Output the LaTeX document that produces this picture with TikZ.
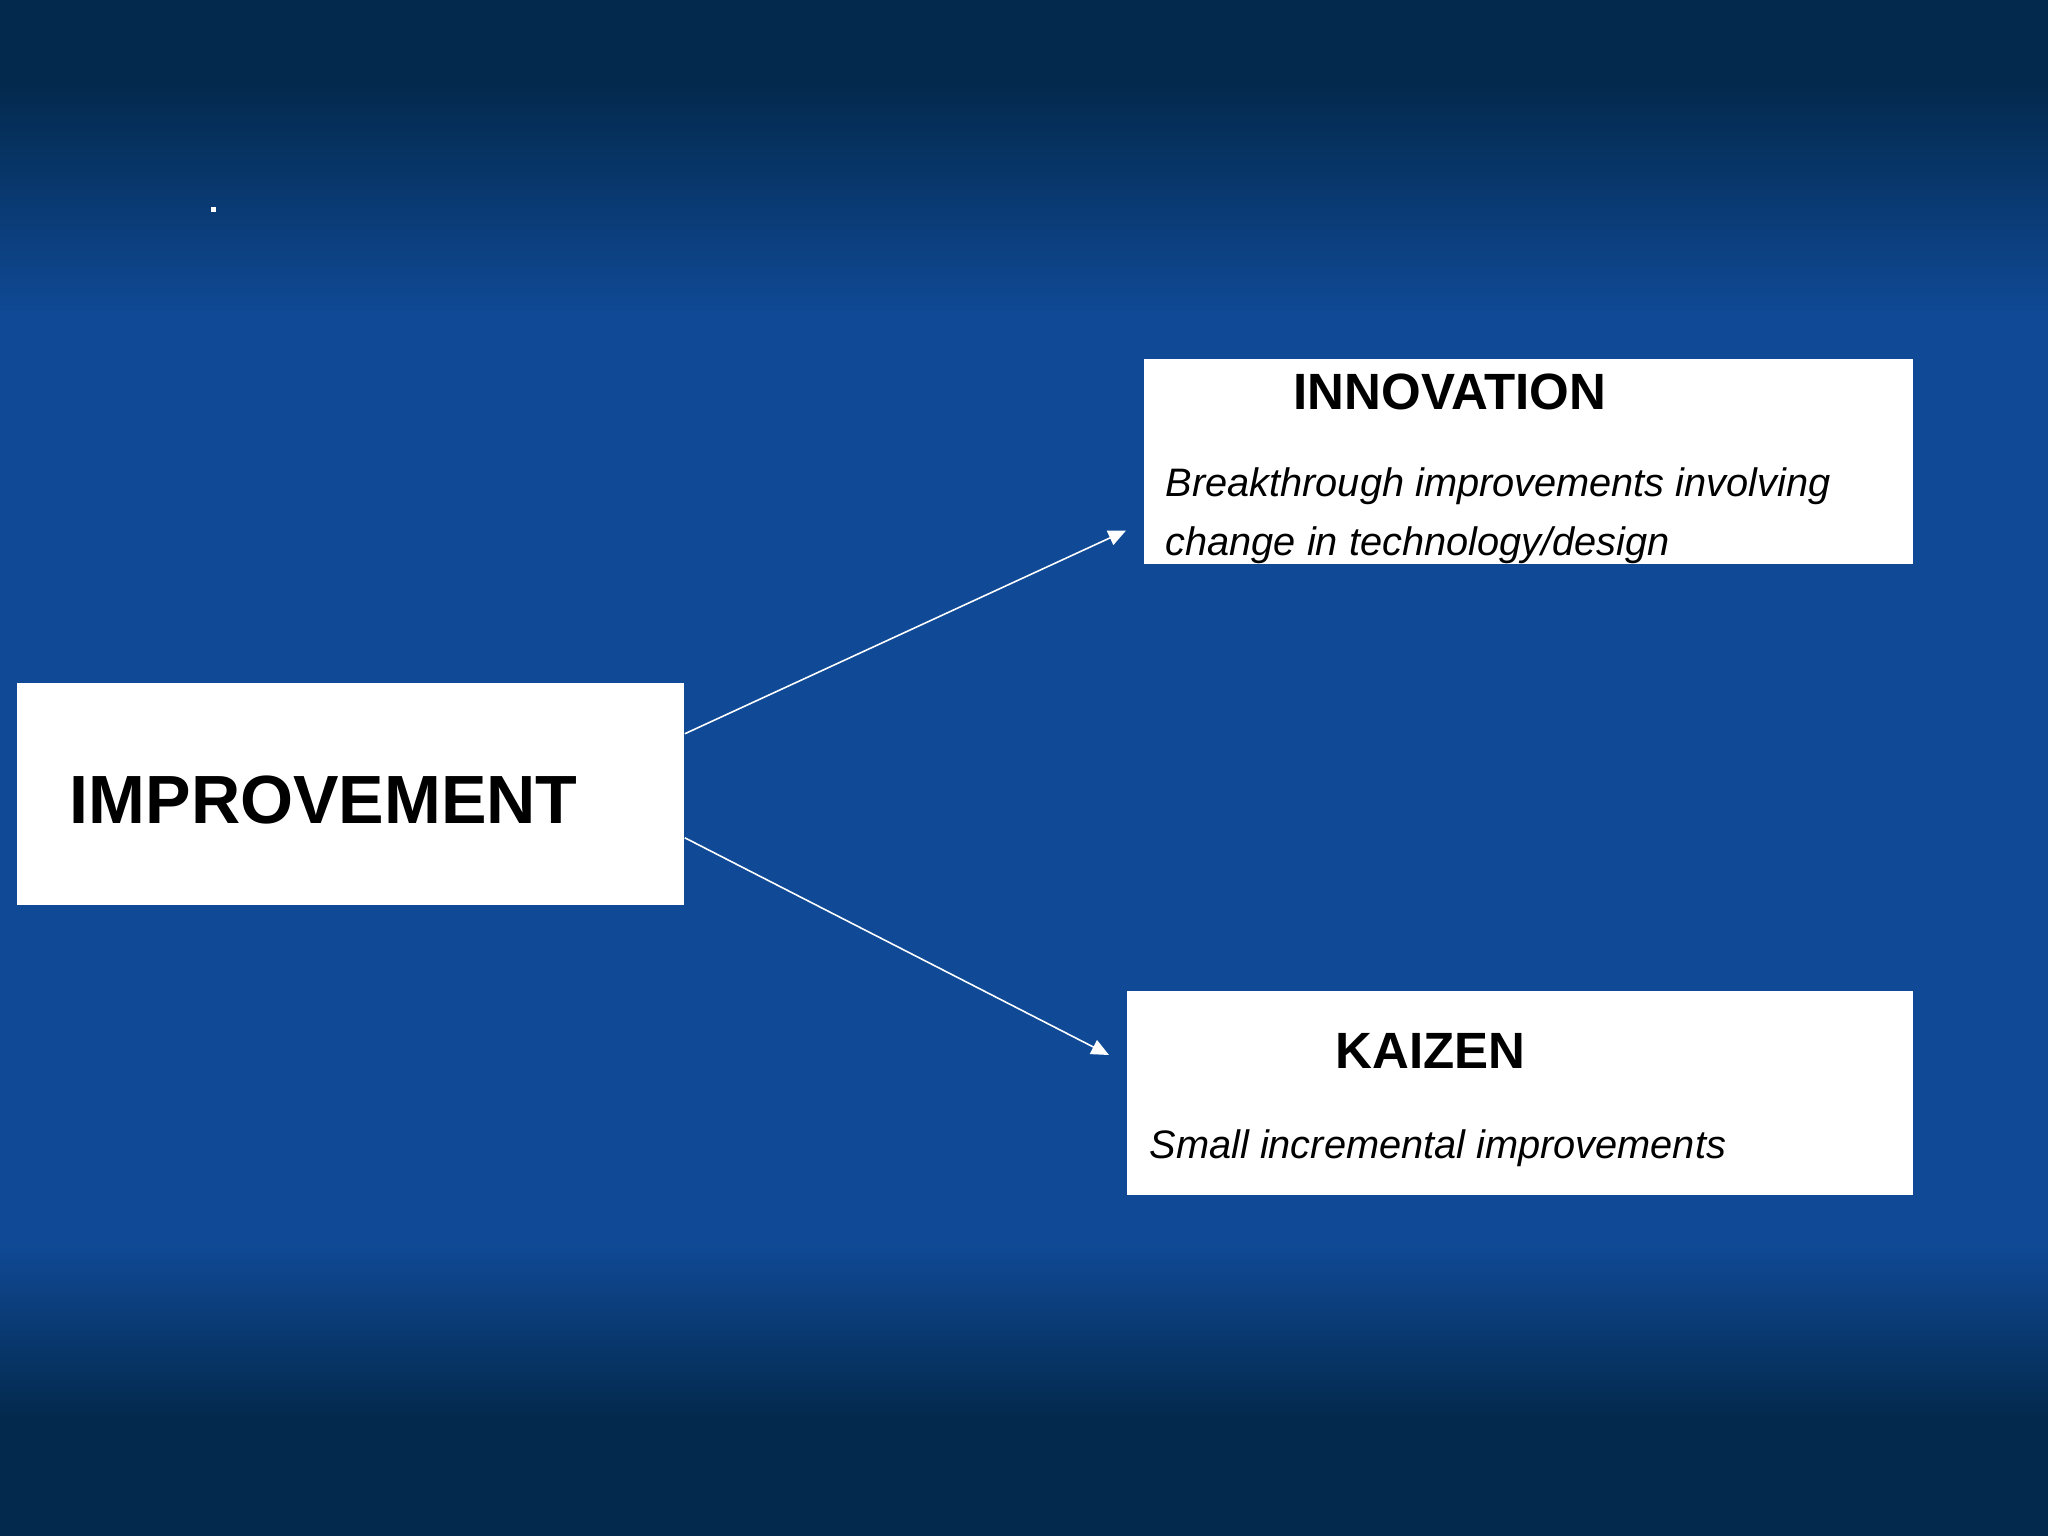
\documentclass[tikz,border=0pt]{standalone}
\usepackage{fontspec}
\setmainfont{Liberation Sans}
\usetikzlibrary{arrows.meta, positioning, calc}
\definecolor{deepnavy}{HTML}{03294C}
\definecolor{slideblue}{HTML}{104A97}

\begin{document}
\begin{tikzpicture}[x=0.01cm, y=-0.01cm]
\tikzstyle{whitebox} = [rectangle, fill=white, draw=none, inner sep=0pt, anchor=north west]
\tikzstyle{bigtitle} = [font=\bfseries\fontsize{19.4}{23}\selectfont, anchor=base west, inner sep=0pt]
\tikzstyle{headline} = [font=\bfseries\fontsize{14.5}{17}\selectfont, anchor=base west, inner sep=0pt]
\tikzstyle{bodytext} = [font=\itshape\fontsize{11.3}{14}\selectfont, anchor=base west, inner sep=0pt]
\tikzstyle{arrow} = [white, line width=0.45pt, -{Triangle[length=5pt, width=4.4pt]}]

% Background
\fill[deepnavy] (0,0) rectangle (2048,1536);
\shade[top color=deepnavy, bottom color=slideblue] (0,80) rectangle (2048,320);
\fill[slideblue] (0,320) rectangle (2048,1240);
\shade[top color=slideblue, bottom color=deepnavy] (0,1240) rectangle (2048,1420);
\fill[white] (211,207) rectangle (216,212);

% Boxes
\node[whitebox, minimum width=6.67cm, minimum height=2.22cm] (imp) at (16,682) {};
\node[whitebox, minimum width=7.69cm, minimum height=2.05cm] (innov) at (1143,358) {};
\node[whitebox, minimum width=7.86cm, minimum height=2.04cm] (kaizen) at (1126,990) {};

% Texts
\node[bigtitle] (imptext) at (69,823) {IMPROVEMENT};
\node[headline] (innovtext) at (1293,409) {INNOVATION};
\node[bodytext] (innovlineA) at (1165,496) {Breakthrough improvements involving};
\node[bodytext] (innovlineB) at (1165,555) {change in technology/design};
\node[headline] (kaizentext) at (1335,1068) {KAIZEN};
\node[bodytext] (kaizenline) at (1149,1158) {Small incremental improvements};

% Connections
\draw[arrow] ($(imp.east)+(0,-60)$) -- ($(innov.south west)+(-17,-34)$);
\draw[arrow] ($(imp.east)+(0,44)$) -- ($(kaizen.north west)+(-17,65)$);
\end{tikzpicture}
\end{document}
